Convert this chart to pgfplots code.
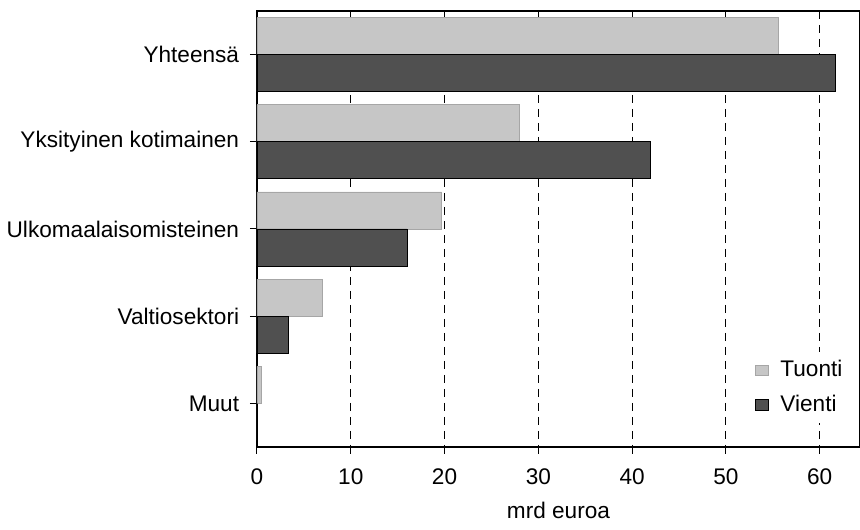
\documentclass[border=0pt]{standalone}
\usepackage{pgfplots}
\pgfplotsset{compat=1.18}
\usepackage{fontspec}
\setmainfont{Liberation Sans}
\definecolor{tuonti}{HTML}{C6C6C6}
\definecolor{vienti}{HTML}{505050}
\begin{document}
\fontsize{11.3}{13.5}\selectfont
\begin{tikzpicture}
\begin{axis}[
  scale only axis,
  width=301.5pt, height=218pt,
  xmin=0, xmax=64.3,
  ymin=-0.5, ymax=4.5,
  y dir=reverse,
  ytick={0,1,2,3,4},
  yticklabels={Yhteensä,Yksityinen kotimainen,Ulkomaalaisomisteinen,Valtiosektori,Muut},
  xtick={0,10,20,30,40,50,60},
  tick align=outside,
  xtick pos=bottom, ytick pos=left,
  major tick length=3.5pt,
  tick style={black, line width=0.5pt},
  xmajorgrids,
  grid style={black, dash pattern=on 4pt off 3pt, line width=0.5pt},
  axis line style={black, line width=0.8pt},
  /pgf/number format/assume math mode=true,
  ticklabel style={font=\fontsize{11.3}{13.5}\selectfont},
  xticklabel style={yshift=-3.5pt},
  yticklabel style={xshift=-1.5pt},
  xlabel={mrd euroa},
  xlabel style={font=\fontsize{11.3}{13.5}\selectfont, yshift=-1pt},
  xbar, bar width=18.5pt,
  legend style={draw=none, fill=white, at={(0.818,0.218)}, anchor=north west,
    font=\fontsize{11.3}{13.5}\selectfont, row sep=3.5pt, column sep=4pt, inner sep=2pt},
  legend cell align=left,
  legend image code/.code={\draw[#1] (0pt,-2.6pt) rectangle (6.5pt,2.6pt);},
]
\addplot[fill=tuonti, draw=gray!70, line width=0.3pt, bar shift=9.25pt] coordinates {
  (55.6,0) (28.0,1) (19.7,2) (7.0,3) (0.5,4)};
\addlegendentry{Tuonti}
\addplot[fill=vienti, draw=black, line width=0.4pt, bar shift=-9.25pt] coordinates {
  (61.7,0) (41.9,1) (16.0,2) (3.3,3) (0.0,4)};
\addlegendentry{Vienti}
\coordinate (bl) at (rel axis cs:0,0);
\coordinate (tr) at (rel axis cs:1,1);
\end{axis}
\pgfresetboundingbox
\path[use as bounding box] ([xshift=-128.5pt,yshift=-41.5pt]bl) rectangle ([yshift=5.5pt]tr);
\end{tikzpicture}
\end{document}
